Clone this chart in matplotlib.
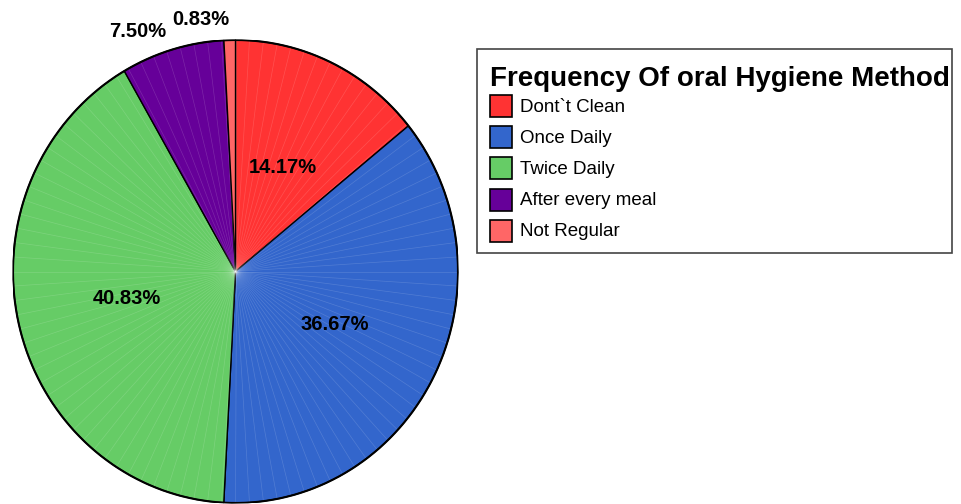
import numpy as np
import matplotlib.pyplot as plt
from matplotlib.patches import Rectangle

# Values
categories = ["Dont`t Clean", "Once Daily", "Twice Daily", "After every meal", "Not Regular"]
percent = [14.17, 36.67, 40.83, 7.50, 0.83]
colors = ["#FF3333", "#3366CC", "#66CC66", "#660099", "#FF6666"]
legend_title = "Frequency Of oral Hygiene Method"

W, H = 961, 504
fig = plt.figure(figsize=(W / 100, H / 100), dpi=100)
plt.rcParams['font.family'] = ['Liberation Sans', 'DejaVu Sans']

# Pie axes sized to the (slightly tall) ellipse of the original
ax = fig.add_axes([13 / W, 1 / H, 445 / W, 463 / H])
wedges, _, autotexts = ax.pie(
    percent, colors=colors, startangle=90, counterclock=False,
    autopct='%.2f%%', pctdistance=0.5,
    wedgeprops=dict(edgecolor='black', linewidth=1.0),
    textprops=dict(fontsize=14.5, fontweight='bold', color='black'))
ax.set_aspect('auto')
ax.set_xlim(-1, 1)
ax.set_ylim(-1, 1)

# faint rendering streaks seen in the original
for a in np.deg2rad(np.arange(0, 360, 3.6)):
    ax.plot([0, np.cos(a)], [0, np.sin(a)], color='white', lw=0.5, alpha=0.15, zorder=1.5)
# outer rim a bit heavier
t = np.linspace(0, 2 * np.pi, 400)
ax.plot(np.cos(t), np.sin(t), color='black', lw=1.5, zorder=3)

# small slices get their labels outside the pie
autotexts[3].set_position((-0.44, 1.035))
autotexts[4].set_position((-0.155, 1.09))
autotexts[0].set_position((0.214, 0.45))
for txt in autotexts:
    txt.set_clip_on(False)

# legend drawn in pixel coordinates
lg = fig.add_axes([0, 0, 1, 1])
lg.set_xlim(0, W)
lg.set_ylim(H, 0)
lg.axis('off')
lg.add_patch(Rectangle((477, 49), 475, 204, fill=False, edgecolor='#444444', lw=1.2))
lg.text(490, 86, legend_title, fontsize=20, fontweight='bold', va='baseline', ha='left')
for i, (cat, col) in enumerate(zip(categories, colors)):
    y = 106 + i * 31.2
    lg.add_patch(Rectangle((490, y - 11), 22, 22, facecolor=col, edgecolor='black', lw=1.2))
    lg.text(520, y + 1, cat, fontsize=13.5, va='center', ha='left')

fig.savefig('out.png', dpi=100)
plt.close(fig)
